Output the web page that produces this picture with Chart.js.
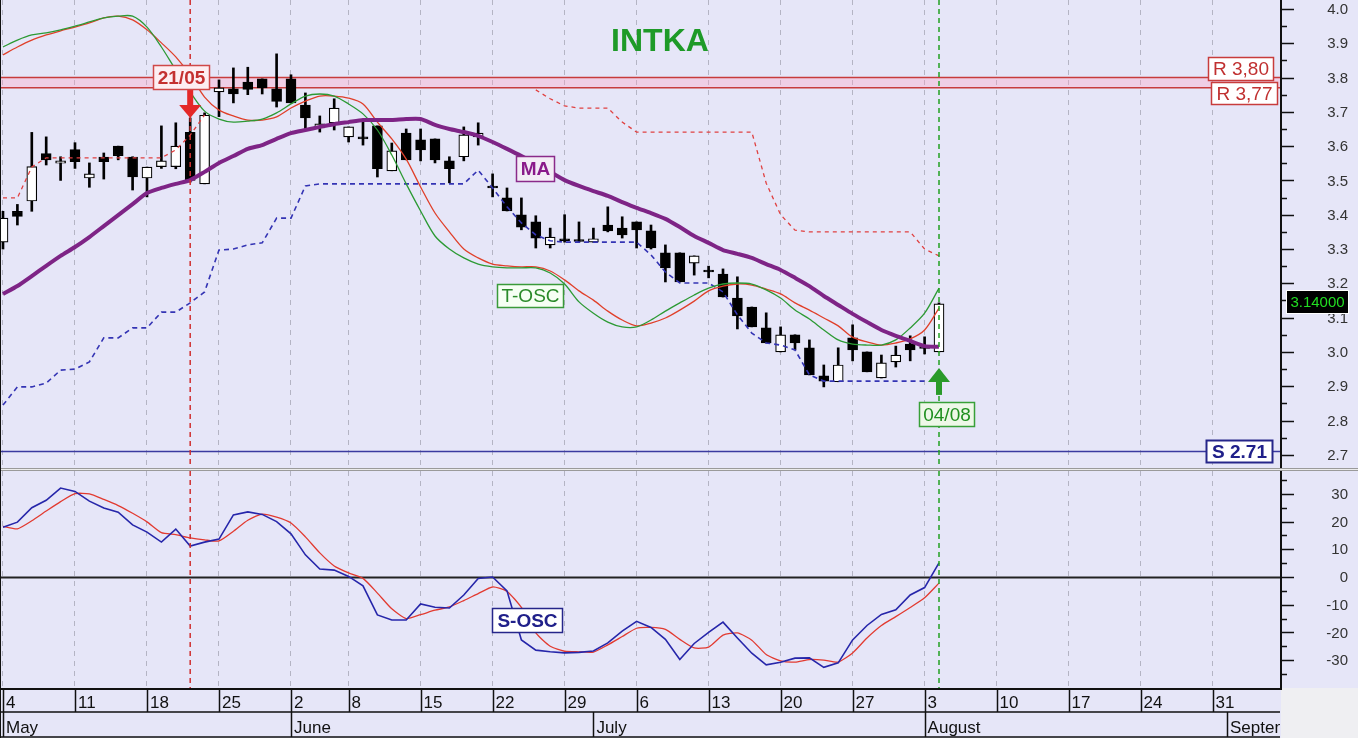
<!DOCTYPE html>
<html>
<head>
<meta charset="utf-8">
<title>INTKA</title>
<script src="https://cdn.jsdelivr.net/npm/chart.js@4.4.1/dist/chart.umd.min.js"></script>
<style>
  html, body { margin: 0; padding: 0; background: #e6e6f8; overflow: hidden; }
  #wrap { position: relative; width: 1358px; height: 738px; }
  canvas { position: absolute; left: 0; }
  #priceChart { top: 0; }
  #oscChart { top: 468px; }
</style>
</head>
<body>
<div id="wrap">
  <canvas id="priceChart" width="1358" height="468"></canvas>
  <canvas id="oscChart" width="1358" height="270"></canvas>
</div>
<script>
// trading days shown on the chart (dd/mm)
const tradeDates = ['04/05','05/05','06/05','07/05','08/05','11/05','12/05','13/05','14/05','15/05',
  '18/05','19/05','20/05','21/05','22/05','25/05','26/05','27/05','28/05','29/05',
  '02/06','03/06','04/06','05/06','08/06','09/06','10/06','11/06','12/06','15/06',
  '16/06','17/06','18/06','19/06','22/06','23/06','24/06','25/06','26/06','29/06','30/06',
  '01/07','02/07','03/07','06/07','07/07','08/07','09/07','10/07','13/07','14/07',
  '15/07','16/07','17/07','20/07','21/07','22/07','23/07','24/07','27/07','28/07',
  '29/07','30/07','31/07','03/08','04/08'];

// candles
const openP = [3.32,3.41,3.44,3.578,3.55,3.59,3.507,3.568,3.60,3.568,
  3.507,3.54,3.54,3.64,3.49,3.758,3.767,3.787,3.796,3.767,
  3.796,3.72,3.653,3.668,3.627,3.627,3.659,3.528,3.638,3.618,
  3.621,3.557,3.569,3.627,3.48,3.449,3.40,3.379,3.312,3.326,
  3.324,3.32,3.37,3.361,3.379,3.353,3.289,3.289,3.259,3.235,
  3.227,3.157,3.131,3.07,3.0,3.05,3.012,2.93,2.913,3.041,
  3.0,2.924,2.971,3.023,3.013,3.0];
const highP = [3.41,3.43,3.64,3.627,3.569,3.61,3.551,3.58,3.60,3.569,
  3.539,3.659,3.668,3.682,3.697,3.793,3.828,3.83,3.796,3.869,
  3.808,3.755,3.688,3.738,3.656,3.671,3.659,3.609,3.65,3.65,
  3.621,3.569,3.656,3.668,3.519,3.478,3.449,3.397,3.361,3.40,
  3.379,3.361,3.423,3.394,3.379,3.37,3.312,3.289,3.28,3.25,
  3.242,3.219,3.131,3.114,3.073,3.05,3.035,2.962,3.012,3.079,
  3.0,2.991,3.017,3.047,3.044,3.143];
const lowP = [3.30,3.37,3.41,3.545,3.50,3.535,3.48,3.504,3.56,3.472,
  3.452,3.535,3.534,3.495,3.49,3.686,3.726,3.75,3.752,3.714,
  3.726,3.647,3.641,3.647,3.612,3.603,3.51,3.528,3.56,3.557,
  3.551,3.493,3.557,3.603,3.452,3.411,3.356,3.303,3.303,3.32,
  3.32,3.32,3.35,3.332,3.303,3.30,3.204,3.204,3.224,3.216,
  3.16,3.067,3.073,3.026,3.0,3.006,2.933,2.898,2.913,2.974,
  2.942,2.924,2.956,2.974,2.994,3.0];
const closeP = [3.39,3.395,3.54,3.56,3.557,3.555,3.519,3.555,3.572,3.51,
  3.539,3.557,3.60,3.50,3.69,3.77,3.752,3.765,3.77,3.73,
  3.726,3.682,3.665,3.711,3.656,3.621,3.534,3.586,3.56,3.589,
  3.56,3.534,3.633,3.638,3.478,3.411,3.364,3.332,3.335,3.324,
  3.322,3.33,3.353,3.341,3.356,3.303,3.245,3.204,3.28,3.233,
  3.16,3.105,3.073,3.026,3.05,3.026,2.933,2.915,2.962,3.006,
  2.942,2.968,2.991,3.006,3.01,3.14];

// indicators on the price panel
const maLine = [3.169,3.192,3.221,3.251,3.280,3.306,3.335,3.367,3.399,3.431,
  3.463,3.478,3.490,3.501,3.525,3.551,3.571,3.592,3.603,3.621,
  3.638,3.647,3.656,3.664,3.670,3.676,3.676,3.676,3.679,3.679,
  3.662,3.650,3.641,3.630,3.612,3.592,3.571,3.548,3.525,3.501,
  3.484,3.469,3.455,3.437,3.420,3.405,3.388,3.364,3.338,3.318,
  3.297,3.286,3.274,3.256,3.239,3.216,3.192,3.163,3.137,3.111,
  3.087,3.064,3.047,3.032,3.017,3.015];
const tOscFast = [3.889,3.909,3.924,3.930,3.939,3.950,3.962,3.974,3.979,3.979,
  3.947,3.889,3.822,3.758,3.702,3.679,3.670,3.673,3.679,3.697,
  3.723,3.746,3.752,3.746,3.723,3.694,3.647,3.574,3.490,3.411,
  3.338,3.300,3.274,3.256,3.248,3.245,3.245,3.245,3.230,3.198,
  3.146,3.113,3.087,3.073,3.073,3.093,3.119,3.143,3.166,3.186,
  3.198,3.201,3.198,3.181,3.157,3.122,3.096,3.064,3.035,3.023,
  3.020,3.020,3.035,3.070,3.113,3.186];
const tOscSlow = [3.866,3.889,3.909,3.924,3.936,3.947,3.959,3.974,3.979,3.968,
  3.939,3.901,3.860,3.807,3.743,3.705,3.688,3.676,3.676,3.685,
  3.711,3.731,3.746,3.746,3.740,3.723,3.670,3.621,3.562,3.481,
  3.405,3.350,3.300,3.274,3.256,3.251,3.248,3.248,3.236,3.210,
  3.178,3.151,3.119,3.093,3.076,3.084,3.099,3.122,3.148,3.178,
  3.192,3.198,3.195,3.183,3.169,3.143,3.122,3.099,3.076,3.043,
  3.029,3.020,3.026,3.038,3.064,3.128];
const upperStop = [3.449,3.449,3.539,3.566,3.566,3.566,3.566,3.566,3.566,3.566,
  3.566,3.566,3.589,3.632,3.691,null,null,null,null,null,
  null,null,null,null,null,null,null,null,null,null,
  null,null,null,null,null,null,null,3.764,3.738,3.717,
  3.711,3.711,3.711,3.670,3.641,3.641,3.641,3.641,3.641,3.641,
  3.641,3.641,3.641,3.492,3.40,3.355,3.35,3.35,3.35,3.35,
  3.35,3.35,3.35,3.35,3.30,3.28];
const lowerStop = [2.845,2.898,2.898,2.909,2.947,2.950,2.971,3.041,3.041,3.070,
  3.070,3.116,3.116,3.143,3.175,3.297,3.300,3.312,3.318,3.390,
  3.390,3.484,3.490,3.490,3.490,3.490,3.490,3.490,3.490,3.490,
  3.490,3.490,3.490,3.530,3.478,3.423,3.376,3.341,3.324,3.320,
  3.320,3.320,3.320,3.320,3.320,3.283,3.233,3.201,3.201,3.201,
  3.175,3.108,3.055,3.026,3.020,3.006,2.933,2.915,2.915,2.915,
  2.915,2.915,2.915,2.915,2.915,null];

// S-OSC panel
const sOscFast = [18.0,19.8,25.0,27.7,32.1,30.9,27.4,24.9,23.4,18.8,
  16.2,12.6,17.3,11.2,12.6,13.7,22.4,23.5,22.6,20.0,
  15.6,8.0,2.9,2.5,0.2,-3.2,-13.7,-15.5,-15.5,-9.7,
  -10.9,-11.2,-6.5,-0.5,0.0,-5.0,-22.7,-26.4,-27.0,-27.4,
  -27.2,-26.7,-23.8,-19.5,-16.0,-18.2,-22.5,-29.8,-24.0,-20.0,
  -16.3,-22.0,-27.5,-31.7,-30.8,-29.3,-29.2,-32.6,-31.0,-22.7,
  -17.5,-13.5,-11.8,-6.5,-3.8,5.1];
const sOscSlow = [18.3,17.4,20.3,23.8,27.2,30.1,30.0,28.0,25.8,23.0,
  19.9,16.0,15.3,14.1,13.4,13.0,16.5,20.5,22.7,21.6,
  19.5,14.5,8.7,4.0,1.5,-0.5,-5.8,-11.5,-15.0,-13.6,
  -12.0,-10.8,-8.5,-6.0,-3.6,-5.2,-11.0,-20.2,-25.0,-26.8,
  -27.0,-27.1,-24.5,-21.5,-18.5,-18.2,-18.9,-22.5,-25.6,-25.3,
  -21.0,-20.2,-22.8,-28.0,-30.3,-30.7,-29.8,-30.0,-30.7,-27.4,
  -22.0,-17.5,-14.3,-11.0,-7.5,-2.2];

// axis labels
const weekTickIdx = [0,5,10,15,20,24,29,34,39,44,49,54,59,64,69,74,79,84];
const weekTickLabels = ['4','11','18','25','2','8','15','22','29','6','13','20','27','3','10','17','24','31'];
const monthStartIdx = [0,20,41,64,85];
const monthLabels = ['May','June','July','August','September'];
const priceTicks = [2.7,2.8,2.9,3.0,3.1,3.2,3.3,3.4,3.5,3.6,3.7,3.8,3.9,4.0];
const oscTicks = [-30,-20,-10,0,10,20,30];

// levels and signals
const resistance = [3.80, 3.77];
const resistanceLabels = ['R 3,80', 'R 3,77'];
const support = 2.71;
const supportLabel = 'S 2.71';
const lastPrice = 3.14;
const sellSignal = { idx: 13, label: '21/05' };
const buySignal = { idx: 65, label: '04/08' };

const FONT = '"Liberation Sans", Arial, sans-serif';
const PANEL_BG = '#e6e6f8';
const X_MIN = -0.208, X_MAX = 88.68;

const xy = arr => arr.map((v, i) => ({ x: i, y: v }));

function gridX(axisHeight) {
    return {
        type: 'linear', min: X_MIN, max: X_MAX, offset: false,
        afterBuildTicks: s => { s.ticks = weekTickIdx.map(v => ({ value: v })); },
        ticks: { display: false },
        grid: { color: '#b4b4c4', lineWidth: 1, drawTicks: false, offset: false },
        border: { display: false, dash: [5, 5] },
        afterFit: s => { s.height = axisHeight; s.paddingLeft = 0; s.paddingRight = 0; }
    };
}

function rightAxis(min, max) {
    return {
        position: 'right', min: min, max: max,
        ticks: { display: false },
        grid: { display: false },
        border: { display: false },
        afterFit: s => { s.width = 78; s.paddingTop = 0; s.paddingBottom = 0; }
    };
}

function drawBox(ctx, text, cx, cy, w, h, o) {
    const x = Math.round(cx - w / 2) + 0.5, y = Math.round(cy - h / 2) + 0.5;
    ctx.fillStyle = o.bg;
    ctx.fillRect(x, y, w, h);
    ctx.strokeStyle = o.border;
    ctx.lineWidth = o.lw || 1.5;
    ctx.strokeRect(x, y, w, h);
    ctx.font = o.font;
    ctx.fillStyle = o.color;
    ctx.textAlign = 'center';
    ctx.textBaseline = 'middle';
    ctx.fillText(text, x + w / 2, y + h / 2 + 1);
}

function drawAxisTicks(chart, scale, majors, minors, fmt) {
    const { ctx } = chart;
    const x = chart.chartArea.right;
    ctx.save();
    ctx.strokeStyle = '#111';
    ctx.lineWidth = 2;
    ctx.beginPath();
    ctx.moveTo(x + 1, scale.top);
    ctx.lineTo(x + 1, scale.bottom);
    ctx.stroke();
    ctx.lineWidth = 1.5;
    ctx.beginPath();
    majors.forEach(v => {
        const y = Math.round(scale.getPixelForValue(v)) + 0.5;
        ctx.moveTo(x, y); ctx.lineTo(x + 14, y);
    });
    minors.forEach(v => {
        const y = Math.round(scale.getPixelForValue(v)) + 0.5;
        if (y < scale.top || y > scale.bottom) return;
        ctx.moveTo(x, y); ctx.lineTo(x + 7, y);
    });
    ctx.stroke();
    ctx.font = '15px ' + FONT;
    ctx.fillStyle = '#333';
    ctx.textAlign = 'right';
    ctx.textBaseline = 'middle';
    majors.forEach(v => ctx.fillText(fmt(v), 1348, scale.getPixelForValue(v) + 1));
    ctx.restore();
}

function vMarker(ctx, x, top, bottom, color) {
    ctx.save();
    ctx.strokeStyle = color;
    ctx.lineWidth = 1.5;
    ctx.setLineDash([5, 4]);
    ctx.beginPath();
    ctx.moveTo(x, top);
    ctx.lineTo(x, bottom);
    ctx.stroke();
    ctx.restore();
}

const pricePanel = {
    id: 'pricePanel',
    beforeDraw(chart) {
        const { ctx, width, height } = chart;
        ctx.save();
        ctx.fillStyle = PANEL_BG;
        ctx.fillRect(0, 0, width, height);
        ctx.restore();
    },
    beforeDatasetsDraw(chart) {
        const { ctx, chartArea: a } = chart;
        const ys = chart.scales.y;
        const y1 = ys.getPixelForValue(resistance[0]), y2 = ys.getPixelForValue(resistance[1]);
        ctx.save();
        ctx.fillStyle = 'rgba(255,160,195,0.35)';
        ctx.fillRect(a.left, y1, a.right - a.left, y2 - y1);
        ctx.strokeStyle = '#c83c3c';
        ctx.lineWidth = 1.5;
        ctx.beginPath();
        [y1, y2].forEach(y => { ctx.moveTo(a.left, y); ctx.lineTo(a.right, y); });
        ctx.stroke();
        const ysup = ys.getPixelForValue(support);
        ctx.strokeStyle = '#3a3aa0';
        ctx.beginPath();
        ctx.moveTo(a.left, ysup); ctx.lineTo(a.right, ysup);
        ctx.stroke();
        ctx.restore();
    },
    afterDatasetsDraw(chart) {
        const { ctx, chartArea: a } = chart;
        const xs = chart.scales.x, ys = chart.scales.y;
        const sx = xs.getPixelForValue(sellSignal.idx);
        const bx = xs.getPixelForValue(buySignal.idx);
        vMarker(ctx, sx, a.top, a.bottom, '#d03030');
        vMarker(ctx, bx, a.top, a.bottom, '#22a022');

        ctx.save();
        // sell arrow + label
        const sTip = ys.getPixelForValue(highP[sellSignal.idx]);
        ctx.fillStyle = '#e42828';
        ctx.fillRect(sx - 3, sTip - 28, 6, 16);
        ctx.beginPath();
        ctx.moveTo(sx - 11, sTip - 13); ctx.lineTo(sx + 11, sTip - 13); ctx.lineTo(sx, sTip);
        ctx.closePath(); ctx.fill();
        drawBox(ctx, sellSignal.label, sx - 9, sTip - 41, 56, 24,
            { bg: '#fdeef2', border: '#d04848', color: '#c43030', font: 'bold 19px ' + FONT });

        // buy arrow + label
        const bTip = ys.getPixelForValue(lowP[buySignal.idx]) + 16;
        ctx.fillStyle = '#2a9a2a';
        ctx.beginPath();
        ctx.moveTo(bx - 11, bTip + 14); ctx.lineTo(bx + 11, bTip + 14); ctx.lineTo(bx, bTip);
        ctx.closePath(); ctx.fill();
        ctx.fillRect(bx - 3, bTip + 13, 6, 14);
        drawBox(ctx, buySignal.label, bx + 7, bTip + 46, 55, 24,
            { bg: '#eef8e8', border: '#38a038', color: '#209020', font: '19px ' + FONT });

        // indicator names
        drawBox(ctx, 'MA', 535, 168, 38, 25,
            { bg: '#f3ecf6', border: '#8a2a8a', color: '#8a1a8a', font: 'bold 19px ' + FONT });
        drawBox(ctx, 'T-OSC', 530, 295, 66, 23,
            { bg: '#f6fff4', border: '#3a9a3a', color: '#2a8a2a', font: '19px ' + FONT });

        // level labels
        drawBox(ctx, resistanceLabels[0], a.right - 40, ys.getPixelForValue(resistance[0]) - 9, 65, 23,
            { bg: '#ffffff', border: '#c83c3c', color: '#c03030', font: '19px ' + FONT });
        drawBox(ctx, resistanceLabels[1], a.right - 36, ys.getPixelForValue(resistance[1]) + 5, 66, 22,
            { bg: '#ffffff', border: '#c83c3c', color: '#c03030', font: '19px ' + FONT });
        drawBox(ctx, supportLabel, a.right - 41, ys.getPixelForValue(support), 66, 22,
            { bg: '#ffffff', border: '#26268a', color: '#20208a', font: 'bold 19px ' + FONT, lw: 2 });

        // title
        ctx.font = 'bold 32px ' + FONT;
        ctx.fillStyle = '#1e9a28';
        ctx.textAlign = 'center';
        ctx.textBaseline = 'middle';
        ctx.fillText('INTKA', 660, 42);
        ctx.restore();

        // left border
        ctx.fillStyle = '#111';
        ctx.fillRect(0, 0, 1, chart.height);
    },
    afterDraw(chart) {
        const ys = chart.scales.y;
        const minors = priceTicks.map(v => v + 0.05);
        drawAxisTicks(chart, ys, priceTicks, minors, v => v.toFixed(1));
        const { ctx } = chart;
        ctx.save();
        drawBox(ctx, lastPrice.toFixed(5), 1317, ys.getPixelForValue(lastPrice) - 2.5, 62, 23,
            { bg: '#000000', border: '#ffffff', color: '#22dd22', font: '15px ' + FONT, lw: 1 });
        ctx.restore();
    }
};

const oscPanel = {
    id: 'oscPanel',
    beforeDraw(chart) {
        const { ctx, width, height } = chart;
        ctx.save();
        ctx.fillStyle = PANEL_BG;
        ctx.fillRect(0, 0, width, height);
        ctx.fillStyle = '#ececec';
        ctx.fillRect(0, 0, width, 3);
        ctx.fillStyle = '#9a9a9a';
        ctx.fillRect(0, 0, width, 1);
        ctx.fillRect(0, 2, width, 1);
        ctx.restore();
    },
    beforeDatasetsDraw(chart) {
        const { ctx, chartArea: a } = chart;
        const y0 = Math.round(chart.scales.y.getPixelForValue(0)) + 0.5;
        ctx.save();
        ctx.strokeStyle = '#222';
        ctx.lineWidth = 2;
        ctx.beginPath();
        ctx.moveTo(a.left, y0); ctx.lineTo(a.right, y0);
        ctx.stroke();
        ctx.restore();
    },
    afterDatasetsDraw(chart) {
        const { ctx, chartArea: a } = chart;
        const xs = chart.scales.x, ys = chart.scales.y;
        vMarker(ctx, xs.getPixelForValue(sellSignal.idx), a.top, a.bottom, '#d03030');
        vMarker(ctx, xs.getPixelForValue(buySignal.idx), a.top, a.bottom, '#22a022');
        ctx.save();
        drawBox(ctx, 'S-OSC', xs.getPixelForValue(36.4), ys.getPixelForValue(-15.5), 70, 24,
            { bg: '#ffffff', border: '#26268a', color: '#20208a', font: 'bold 19px ' + FONT });
        ctx.restore();
    },
    afterDraw(chart) {
        const { ctx, chartArea: a } = chart;
        const xs = chart.scales.x;
        const minors = [-35, -25, -15, -5, 5, 15, 25, 35];
        drawAxisTicks(chart, chart.scales.y, oscTicks, minors, v => String(v));

        // two-row date axis
        const top = a.bottom, mid = top + 24, bot = chart.height - 1;
        ctx.save();
        ctx.fillStyle = '#efeff2';
        ctx.fillRect(a.right + 1, top, chart.width - a.right, chart.height - top);
        ctx.strokeStyle = '#111';
        ctx.lineWidth = 2;
        ctx.beginPath();
        ctx.moveTo(0, top + 1); ctx.lineTo(a.right + 2, top + 1);
        ctx.stroke();
        ctx.lineWidth = 1.5;
        ctx.beginPath();
        ctx.moveTo(0, mid); ctx.lineTo(a.right, mid);
        ctx.moveTo(0, bot); ctx.lineTo(a.right, bot);
        weekTickIdx.forEach(i => {
            const x = Math.round(xs.getPixelForValue(i)) + 0.5;
            ctx.moveTo(x, top); ctx.lineTo(x, mid);
        });
        monthStartIdx.forEach(i => {
            const x = Math.round(xs.getPixelForValue(i)) + 0.5;
            ctx.moveTo(x, mid); ctx.lineTo(x, bot);
        });
        ctx.stroke();
        ctx.beginPath();
        ctx.rect(0, top, a.right, chart.height - top);
        ctx.clip();
        ctx.fillStyle = '#111';
        ctx.textAlign = 'left';
        ctx.textBaseline = 'alphabetic';
        ctx.font = '17px ' + FONT;
        weekTickIdx.forEach((i, k) => ctx.fillText(weekTickLabels[k], xs.getPixelForValue(i) + 3, top + 20));
        monthStartIdx.forEach((i, k) => ctx.fillText(monthLabels[k], xs.getPixelForValue(i) + 3, bot - 4));
        ctx.restore();

        ctx.fillStyle = '#111';
        ctx.fillRect(0, 0, 1, chart.height);
    }
};

const commonOpts = {
    responsive: false,
    animation: false,
    devicePixelRatio: 1,
    events: [],
    plugins: { legend: { display: false }, tooltip: { enabled: false } }
};

new Chart(document.getElementById('priceChart').getContext('2d'), {
    type: 'bar',
    data: {
        datasets: [
            {
                type: 'line', label: 'MA', data: xy(maLine), order: 1,
                borderColor: '#7e2486', borderWidth: 4, pointRadius: 0, tension: 0.2
            },
            {
                type: 'line', label: 'T-OSC fast', data: xy(tOscFast), order: 2,
                borderColor: '#2c9a34', borderWidth: 1.3, pointRadius: 0, tension: 0.3
            },
            {
                type: 'line', label: 'T-OSC slow', data: xy(tOscSlow), order: 3,
                borderColor: '#e0402a', borderWidth: 1.3, pointRadius: 0, tension: 0.3
            },
            {
                type: 'line', label: 'upper stop', data: xy(upperStop), order: 4,
                borderColor: '#e04040', borderWidth: 1.3, borderDash: [4, 4], pointRadius: 0, spanGaps: false
            },
            {
                type: 'line', label: 'lower stop', data: xy(lowerStop), order: 5,
                borderColor: '#3434b4', borderWidth: 1.6, borderDash: [5, 4], pointRadius: 0, spanGaps: false
            },
            {
                label: 'bodies', data: tradeDates.map((d, i) => ({ x: i, y: [openP[i], closeP[i]] })), order: 6,
                grouped: false, barThickness: 10, minBarLength: 2,
                backgroundColor: closeP.map((c, i) => c >= openP[i] ? '#ffffff' : '#000000'),
                borderColor: '#000000', borderWidth: 1.2, borderSkipped: false
            },
            {
                label: 'wicks', data: tradeDates.map((d, i) => ({ x: i, y: [lowP[i], highP[i]] })), order: 7,
                grouped: false, barThickness: 2, backgroundColor: '#000000', borderWidth: 0
            }
        ]
    },
    options: Object.assign({}, commonOpts, {
        layout: { padding: 0 },
        scales: { x: gridX(0), y: rightAxis(2.6616, 4.026) }
    }),
    plugins: [pricePanel]
});

new Chart(document.getElementById('oscChart').getContext('2d'), {
    type: 'line',
    data: {
        datasets: [
            {
                label: 'S-OSC', data: xy(sOscFast), order: 1,
                borderColor: '#2626aa', borderWidth: 1.6, pointRadius: 0, tension: 0
            },
            {
                label: 'S-OSC signal', data: xy(sOscSlow), order: 2,
                borderColor: '#e23a30', borderWidth: 1.3, pointRadius: 0, tension: 0.2
            }
        ]
    },
    options: Object.assign({}, commonOpts, {
        layout: { padding: { top: 3, left: 0, right: 0, bottom: 0 } },
        scales: { x: gridX(50), y: rightAxis(-40.07, 38.27) }
    }),
    plugins: [oscPanel]
});
</script>
</body>
</html>
